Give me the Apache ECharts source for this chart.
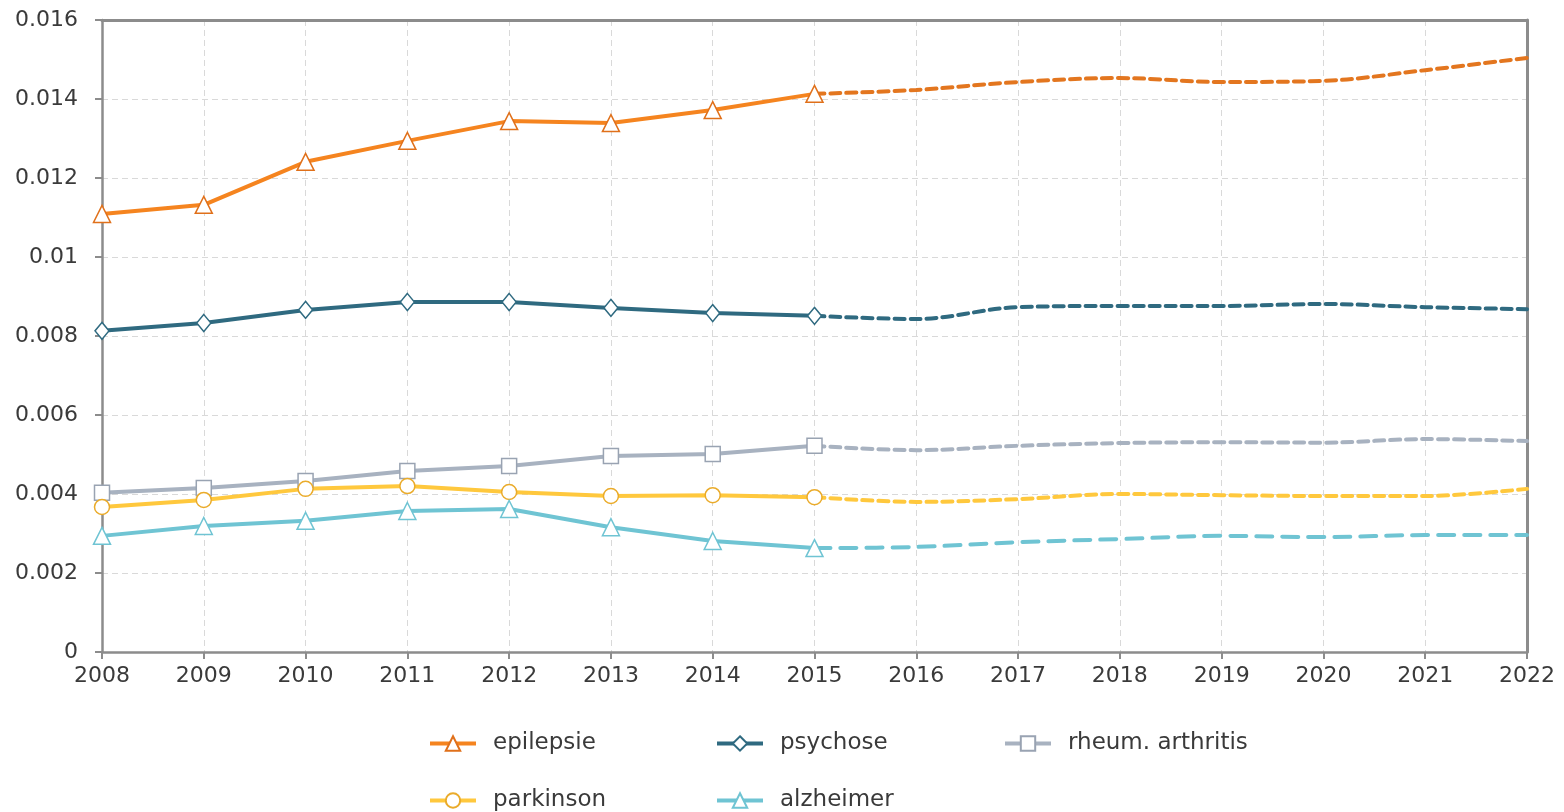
<!DOCTYPE html>
<html>
<head>
<meta charset="utf-8">
<script src="https://cdn.jsdelivr.net/npm/echarts@6/dist/echarts.min.js"></script>
<style>
  html, body { margin: 0; padding: 0; background: #fff; }
  #chart { width: 1564px; height: 812px; }
</style>
</head>
<body>
<div id="chart"></div>
<script>
// jaren
const years = ['2008', '2009', '2010', '2011', '2012', '2013', '2014', '2015',
  '2016', '2017', '2018', '2019', '2020', '2021', '2022'];

// gemeten (2008-2015)
const epilepsie = [0.01109, 0.01132, 0.01241, 0.01294, 0.01344, 0.01339, 0.01372, 0.01413];
const psychose = [0.00813, 0.00833, 0.00866, 0.00886, 0.00886, 0.00871, 0.00858, 0.00851];
const rheum = [0.00403, 0.00415, 0.00433, 0.00458, 0.00471, 0.00496, 0.00501, 0.00522];
const parkinson = [0.00367, 0.00385, 0.00413, 0.00420, 0.00405, 0.00395, 0.00397, 0.00392];
const alzheimer = [0.00294, 0.00319, 0.00332, 0.00357, 0.00362, 0.00316, 0.00281, 0.00263];

// prognose (2015-2022)
const epilepsieProg = [0.01413, 0.01423, 0.01443, 0.01453, 0.01443, 0.01446, 0.01473, 0.01504];
const psychoseProg = [0.00851, 0.00843, 0.00873, 0.00876, 0.00876, 0.00881, 0.00873, 0.00868];
const rheumProg = [0.00522, 0.00511, 0.00522, 0.00529, 0.00531, 0.00530, 0.00539, 0.00534];
const parkinsonProg = [0.00392, 0.00380, 0.00387, 0.00400, 0.00397, 0.00395, 0.00395, 0.00413];
const alzheimerProg = [0.00263, 0.00266, 0.00278, 0.00286, 0.00294, 0.00291, 0.00296, 0.00296];

const yTicks = [0, 0.002, 0.004, 0.006, 0.008, 0.01, 0.012, 0.014, 0.016];

const FONT = 'DejaVu Sans';
const AXIS = '#8c8c8c';
const TEXT = '#3a3a3a';

// gemeten waarden aan het begin, prognose vanaf 2015
const pad = (arr) => arr.concat(new Array(years.length - arr.length).fill(null));
const prog = (arr) => new Array(years.length - arr.length).fill(null).concat(arr);

const solid = (name, data, color, symbol, size, border) => ({
  name: name,
  type: 'line',
  data: pad(data),
  z: 5,
  symbol: symbol,
  symbolSize: size,
  lineStyle: { color: color, width: 4 },
  itemStyle: { color: '#fff', borderColor: border || color, borderWidth: 1.5 },
  emphasis: { disabled: true }
});

const dashed = (name, data, color, dash) => ({
  name: name,
  type: 'line',
  data: prog(data),
  z: 3,
  smooth: 0.35,
  showSymbol: false,
  lineStyle: { color: color, width: 4, type: dash, cap: 'round' },
  itemStyle: { color: color },
  emphasis: { disabled: true }
});

const legendItem = (name, left, top) => ({
  data: [name],
  left: left,
  top: top,
  itemWidth: 46,
  itemHeight: 18,
  lineStyle: { width: 4 },
  textStyle: { fontFamily: FONT, fontSize: 23, color: TEXT, padding: [0, 0, 0, 12] }
});

const myChart = echarts.init(document.getElementById('chart'));

const option = {
  animation: false,
  backgroundColor: '#fff',
  legend: [
    legendItem('epilepsie', 423, 727),
    legendItem('psychose', 710, 727),
    legendItem('rheum. arthritis', 998, 727),
    legendItem('parkinson', 423, 784),
    legendItem('alzheimer', 710, 784)
  ],
  grid: {
    left: 102,
    right: 37,
    top: 20,
    bottom: 160,
    show: false
  },
  xAxis: [
    {
      type: 'category',
      boundaryGap: false,
      data: years,
      axisLine: { onZero: false, lineStyle: { color: AXIS, width: 2.5 } },
      axisTick: { show: true, length: 7, alignWithLabel: true, lineStyle: { color: AXIS, width: 2 } },
      axisLabel: { fontFamily: FONT, fontSize: 22, color: TEXT, margin: 13 },
      splitLine: { show: true, lineStyle: { color: '#d9d9d9', type: [6, 4], width: 1 } }
    },
    {
      // bovenrand
      type: 'category',
      position: 'top',
      boundaryGap: false,
      data: years,
      axisLine: { show: true, onZero: false, lineStyle: { color: AXIS, width: 3 } },
      axisTick: { show: false },
      axisLabel: { show: false },
      splitLine: { show: false }
    }
  ],
  yAxis: [
    {
      type: 'value',
      min: 0,
      max: yTicks[yTicks.length - 1],
      interval: 0.002,
      axisLine: { show: true, onZero: false, lineStyle: { color: AXIS, width: 2.5 } },
      axisTick: { show: true, length: 7, lineStyle: { color: AXIS, width: 2 } },
      axisLabel: {
        fontFamily: FONT, fontSize: 22, color: TEXT, margin: 24,
        formatter: (v) => String(+v.toFixed(3))
      },
      splitLine: { show: true, lineStyle: { color: '#d9d9d9', type: [6, 4], width: 1 } }
    },
    {
      // rechterrand
      type: 'value',
      position: 'right',
      min: 0,
      max: yTicks[yTicks.length - 1],
      interval: 0.002,
      axisLine: { show: true, onZero: false, lineStyle: { color: AXIS, width: 3 } },
      axisTick: { show: false },
      axisLabel: { show: false },
      splitLine: { show: false }
    }
  ],
  series: [
    dashed('epilepsie prognose', epilepsieProg, '#e3761f', [10, 6]),
    dashed('psychose prognose', psychoseProg, '#2f6a80', [10, 6]),
    dashed('rheum prognose', rheumProg, '#a8b2c0', [10, 6]),
    dashed('parkinson prognose', parkinsonProg, '#ffc83d', [10, 6]),
    dashed('alzheimer prognose', alzheimerProg, '#6fc4d3', [16, 10]),
    solid('epilepsie', epilepsie, '#f5841f', 'triangle', 17, '#e0701a'),
    solid('psychose', psychose, '#2f6a80', 'diamond', [14, 17]),
    solid('rheum. arthritis', rheum, '#a8b2c0', 'rect', 15, '#99a3b2'),
    solid('parkinson', parkinson, '#ffc83d', 'circle', 15, '#eaab2a'),
    solid('alzheimer', alzheimer, '#6fc4d3', 'triangle', 17)
  ]
};

option && myChart.setOption(option);

window.addEventListener('resize', () => {
  myChart.resize();
});
</script>
</body>
</html>
